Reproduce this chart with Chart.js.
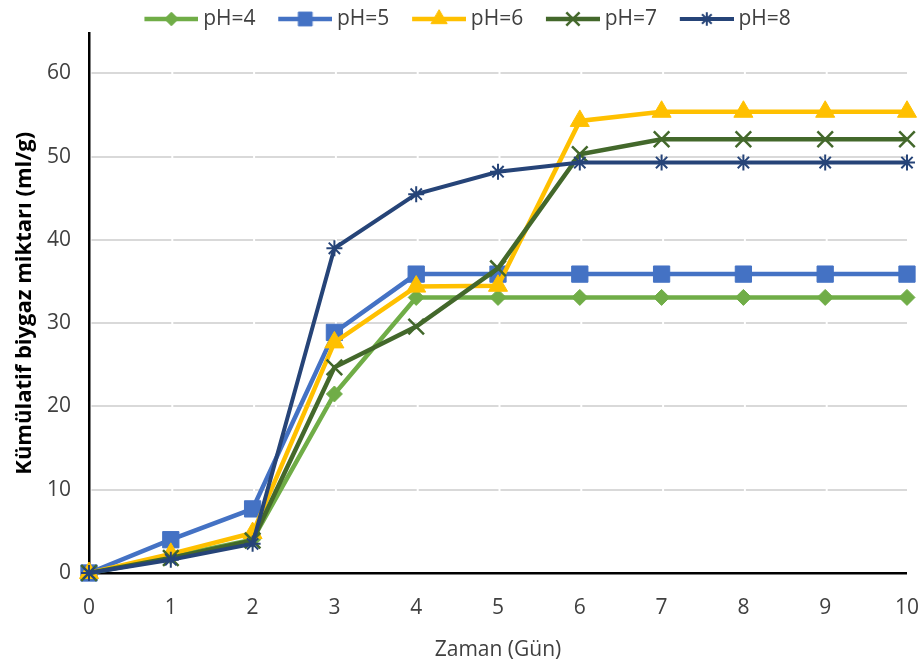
<!DOCTYPE html>
<html><head><meta charset="utf-8">
<script src="https://cdn.jsdelivr.net/npm/chart.js@4"></script>
<style>html,body{margin:0;padding:0;background:#fff}#wrap{width:923px;height:659px}</style>
</head><body><div id="wrap"><canvas id="c" width="923" height="659"></canvas></div>
<script>
const days = ['0','1','2','3','4','5','6','7','8','9','10'];
const seriesNames = ['pH=4','pH=5','pH=6','pH=7','pH=8'];
const ph4 = [0, 2.0, 4.0, 21.5, 33.1, 33.1, 33.1, 33.1, 33.1, 33.1, 33.1];
const ph5 = [0, 4.0, 7.7, 28.9, 35.9, 35.9, 35.9, 35.9, 35.9, 35.9, 35.9];
const ph6 = [0, 2.3, 4.8, 27.7, 34.4, 34.5, 54.3, 55.4, 55.4, 55.4, 55.4];
const ph7 = [0, 1.8, 3.9, 24.7, 29.6, 36.6, 50.3, 52.1, 52.1, 52.1, 52.1];
const ph8 = [0, 1.6, 3.5, 39.0, 45.5, 48.2, 49.3, 49.3, 49.3, 49.3, 49.3];
const yTicks = [0, 10, 20, 30, 40, 50, 60];

const FONT = "'Open Sans', 'Liberation Sans', sans-serif";
const colors = ['#70AD47', '#4472C4', '#FFC000', '#43682B', '#264478'];
const styles = ['rectRot', 'rect', 'triangle', 'crossRot', 'star'];
const radii = [8, 11.5, 11, 11, 8];
const pbw = [1, 1, 1, 2.5, 2];
const lws = [4.5, 4.5, 4.5, 4.5, 4];
const values = [ph4, ph5, ph6, ph7, ph8];

function legendImg(i) {
  const c = document.createElement('canvas');
  c.width = 80; c.height = 24;
  const g = c.getContext('2d');
  g.strokeStyle = colors[i]; g.lineWidth = lws[i];
  g.beginPath(); g.moveTo(26, 12); g.lineTo(80, 12); g.stroke();
  g.fillStyle = colors[i]; g.strokeStyle = colors[i]; g.lineWidth = pbw[i];
  Chart.helpers.drawPoint(g, {pointStyle: styles[i], radius: radii[i] * 0.85, rotation: 0, borderWidth: pbw[i]}, 53, 12);
  return c;
}
const imgs = seriesNames.map((_, i) => legendImg(i));

const LEG_DX = -4, LEG_DY = 6;
const legendShift = {
  id: 'legendShift',
  afterLayout(chart) {
    const l = chart.legend;
    l.left += LEG_DX; l.right += LEG_DX; l.top += LEG_DY; l.bottom += LEG_DY;
  }
};

const datasets = seriesNames.map((n, i) => ({
  label: n,
  data: values[i],
  borderColor: colors[i],
  backgroundColor: colors[i],
  borderWidth: lws[i],
  pointStyle: styles[i],
  pointRadius: radii[i],
  pointHoverRadius: radii[i],
  pointBorderWidth: pbw[i],
  pointBackgroundColor: colors[i],
  pointBorderColor: colors[i],
  tension: 0,
  fill: false,
  clip: false,
  order: 5 - i
}));

new Chart(document.getElementById('c'), {
  type: 'line',
  data: { labels: days, datasets },
  plugins: [legendShift],
  options: {
    responsive: false,
    animation: false,
    layout: { padding: { left: 0, right: 0, top: 0, bottom: 0 } },
    plugins: {
      tooltip: { enabled: false },
      legend: {
        position: 'top',
        labels: {
          usePointStyle: true,
          pointStyleWidth: 68.5,
          padding: 2.5,
          color: '#404040',
          font: { family: FONT, size: 21 },
          generateLabels: chart => seriesNames.map((n, i) => ({
            text: n, pointStyle: imgs[i], datasetIndex: i, hidden: false,
            fillStyle: colors[i], strokeStyle: colors[i], lineWidth: 0, fontColor: '#404040'
          }))
        }
      }
    },
    scales: {
      x: {
        type: 'category',
        grid: { display: false, drawTicks: true, tickLength: 18 },
        border: { color: '#000', width: 2.5 },
        ticks: { color: '#404040', font: { family: FONT, size: 21 }, padding: 4, maxRotation: 0, autoSkip: false },
        title: { display: true, text: 'Zaman (Gün)', color: '#404040', font: { family: FONT, size: 21 }, padding: { top: 0, bottom: -4 } },
        afterFit: s => { s.height = 86; }
      },
      y: {
        min: 0, max: 64.8,
        afterBuildTicks: s => { s.ticks = yTicks.map(v => ({ value: v })); },
        ticks: { color: '#404040', font: { family: FONT, size: 21 }, padding: 18 },
        grid: { color: '#d9d9d9', lineWidth: 2, drawTicks: false },
        border: { color: '#000', width: 2.5, dash: [79.8, 2], dashOffset: -1 },
        title: { display: true, text: 'Kümülatif biygaz miktarı (ml/g)', color: '#000', font: { family: FONT, size: 22, weight: 'bold' }, padding: { top: 12, bottom: 0 } },
        afterFit: s => { s.width = 89; }
      }
    }
  }
});
</script>
</body></html>
